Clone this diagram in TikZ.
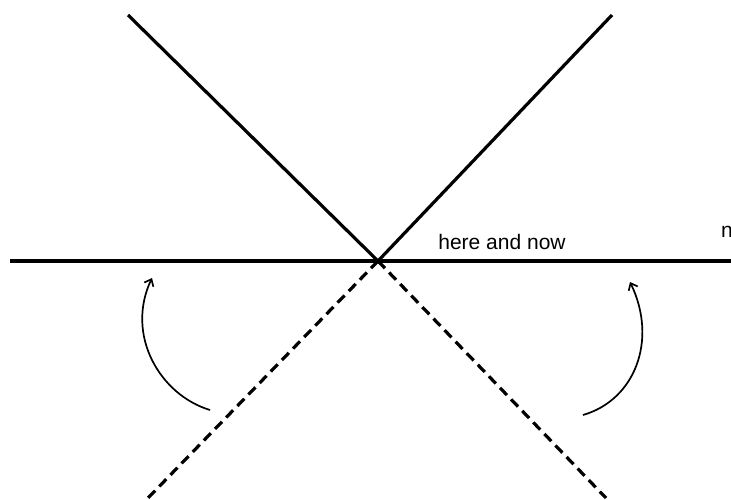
\documentclass[tikz,border=0pt]{standalone}
\usepackage{fontspec}
\setmainfont{Liberation Sans}
\usetikzlibrary{arrows.meta}
\begin{document}
\begin{tikzpicture}[x=1pt,y=-1pt,
  mainline/.style={line width=3.2pt},
  dashline/.style={line width=3.2pt,dash pattern=on 10pt off 6pt},
  bendarrow/.style={line width=1.7pt,-{Straight Barb[length=6pt,width=10pt]}},
  lbl/.style={font=\fontsize{21}{25}\selectfont,inner sep=0pt}]
\useasboundingbox (0,0) rectangle (731,500);
\clip (0,0) rectangle (731,500);
\fill[white] (0,0) rectangle (731,500);
\coordinate (O) at (378,261);
\coordinate (HL) at (10,261);
\coordinate (HR) at (731,261);
\coordinate (UL) at (128,15);
\coordinate (UR) at (612,15);
\coordinate (DL) at (148,498);
\coordinate (DR) at (606,498);
\draw[mainline] (HL) -- (HR);
\draw[mainline] (UL) -- (O) -- (UR);
\draw[dashline] (O) -- (DL);
\draw[dashline] (O) -- (DR);
\node[lbl,anchor=base] (here) at (502,249) {here and now};
\node[lbl,anchor=base west] (n) at (721,237) {n};
\coordinate (a1s) at (210,410);
\coordinate (a1e) at (152,278);
\coordinate (a2s) at (583,415);
\coordinate (a2e) at (630,282);
\draw[bendarrow] (a1s) .. controls (160,395) and (125,335) .. (a1e);
\draw[bendarrow] (a2s) .. controls (635,400) and (658,340) .. (a2e);
\end{tikzpicture}
\end{document}
